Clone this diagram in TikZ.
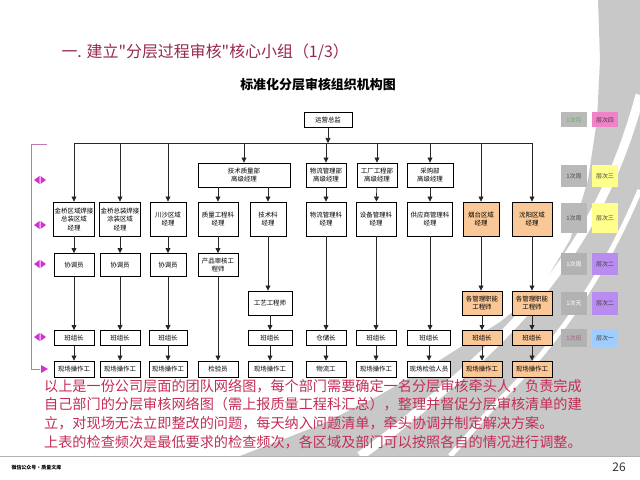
\documentclass[tikz,border=0pt]{standalone}
\usepackage{fontspec}
\setmainfont{Noto Sans CJK SC}[Ligatures=TeXOff]
\usetikzlibrary{arrows.meta, positioning}

\definecolor{titlered}{RGB}{150,40,75}
\definecolor{notered}{RGB}{195,45,85}
\definecolor{orangefill}{RGB}{250,200,150}
\definecolor{freqgrey}{RGB}{185,185,185}
\definecolor{freqlight}{RGB}{178,178,178}
\definecolor{lvlpink}{RGB}{240,130,200}
\definecolor{lvlyellow}{RGB}{255,255,140}
\definecolor{lvlpurple}{RGB}{185,140,240}
\definecolor{lvlblue}{RGB}{160,205,255}
\definecolor{sideline}{RGB}{190,120,190}
\definecolor{sidemark}{RGB}{210,50,210}
\definecolor{swoosh}{RGB}{200,200,200}

\begin{document}
\begin{tikzpicture}[x=1bp, y=-1bp, >={Triangle[length=5bp,width=5bp]},
  org/.style={draw, line width=0.9bp, fill=white, align=center, inner sep=1bp, font=\fontsize{6.5}{8.5}\selectfont, minimum width=40bp},
  r1/.style={org, minimum width=48bp, minimum height=15bp},
  r2/.style={org, minimum height=24bp},
  r3/.style={org, minimum height=34bp},
  r4/.style={org, minimum height=23bp},
  r6/.style={org, minimum height=15bp},
  r7/.style={org, minimum height=16bp},
  hl/.style={fill=orangefill},
  link/.style={->, line width=0.7bp, draw=black!85},
  freq/.style={fill=freqgrey, minimum width=26bp, inner sep=1bp, font=\fontsize{6}{7}\selectfont, text=black!70},
  lvl/.style={minimum width=26bp, inner sep=1bp, font=\fontsize{6}{7}\selectfont, text=black!75}]
\useasboundingbox (0,0) rectangle (640,480);
% background swoosh
\fill[swoosh] (598,0) -- (600,60) -- (597,120) -- (588,180) -- (570,240) -- (540,290) -- (500,322) -- (440,360) -- (380,395) -- (320,425) -- (240,456) -- (640,456) -- (640,0) -- cycle;
\draw[white, line width=9bp] (640,95) .. controls (612,200) and (560,290) .. (455,380) .. controls (420,410) and (390,435) .. (360,456);
\draw[white, line width=5bp] (640,190) .. controls (610,260) and (570,330) .. (500,400) .. controls (480,420) and (465,440) .. (450,456);
\draw[gray!60] (0,456) -- (640,456);

% heading
\node[anchor=west, text=titlered, font=\fontsize{16}{18}\selectfont] (title) at (58,52) {一. 建立"分层过程审核"核心小组（1/3）};
\node[font=\fontsize{13}{15}\selectfont\bfseries] (sub) at (318,85) {标准化分层审核组织机构图};

% chart
\node[r1] (zj) at (328,120) {运营总监};
\coordinate (busL) at (74,143);
\coordinate (busR) at (532,143);
\draw[line width=0.7bp, black!85] (busL) -- (busR);

\node[r2, minimum width=92bp] (jszl) at (244,175) {技术质量部\\高级经理};
\node[r2] (wlb) at (326,175) {物流管理部\\高级经理};
\node[r2] (gcb) at (377,175) {工厂工程部\\高级经理};
\node[r2, minimum width=46bp] (cgb) at (430,175) {采购部\\高级经理};

\node[r3] (c1) at (74,219) {金桥区域焊接\\总装区域\\经理};
\node[r3] (c2) at (120,219) {金桥总装焊接\\涂装区域\\经理};
\node[r3, minimum width=36bp] (c3) at (168,219) {川沙区域\\经理};
\node[r3] (c4) at (218,219) {质量工程科\\经理};
\node[r3, minimum width=36bp] (c5) at (268,219) {技术科\\经理};
\node[r3] (c6) at (326,219) {物流管理科\\经理};
\node[r3] (c7) at (376,219) {设备管理科\\经理};
\node[r3, minimum width=45bp] (c8) at (430,219) {供应商管理科\\经理};
\node[r3, hl, minimum width=36bp] (c9) at (481,219) {烟台区域\\经理};
\node[r3, hl] (c10) at (532,219) {沈阳区域\\经理};

\node[r4] (x1) at (74,265) {协调员};
\node[r4] (x2) at (120,265) {协调员};
\node[r4, minimum width=36bp] (x3) at (168,265) {协调员};
\node[r4] (cp) at (218,265) {产品审核工\\程师};

\node[r2, minimum width=44bp] (gy) at (270,303) {工艺工程师};
\node[r2, hl] (gn1) at (482,303) {各管理职能\\工程师};
\node[r2, hl] (gn2) at (532,303) {各管理职能\\工程师};

\node[r6] (b1) at (74,338) {班组长};
\node[r6] (b2) at (120,338) {班组长};
\node[r6, minimum width=38bp] (b3) at (168,338) {班组长};
\node[r6, minimum width=44bp] (b4) at (270,338) {班组长};
\node[r6] (cc) at (326,338) {仓储长};
\node[r6] (b6) at (376,338) {班组长};
\node[r6, minimum width=43bp] (b7) at (429,338) {班组长};
\node[r6, hl] (b8) at (482,338) {班组长};
\node[r6, hl] (b9) at (532,338) {班组长};

\node[r7] (o1) at (74,369) {现场操作工};
\node[r7] (o2) at (120,369) {现场操作工};
\node[r7, minimum width=38bp] (o3) at (168,369) {现场操作工};
\node[r7] (jy) at (218,369) {检验员};
\node[r7, minimum width=44bp] (o5) at (270,369) {现场操作工};
\node[r7] (wlg) at (326,369) {物流工};
\node[r7] (o7) at (376,369) {现场操作工};
\node[r7, minimum width=43bp] (xj) at (429,369) {现场检验人员};
\node[r7, hl] (o9) at (482,369) {现场操作工};
\node[r7, hl] (o10) at (532,369) {现场操作工};

% connectors
\draw[link] (zj) -- (zj |- busL);
\foreach \n in {jszl,wlb,gcb,cgb,c1,c2,c3,c9,c10}
  \draw[link] (\n |- busL) -- (\n);
\draw[link] (c4 |- jszl.south) -- (c4);
\draw[link] (c5 |- jszl.south) -- (c5);
\draw[link] (wlb) -- (c6);
\draw[link] (gcb) -- (c7);
\draw[link] (cgb) -- (c8);
\draw[link] (c1) -- (x1);
\draw[link] (c2) -- (x2);
\draw[link] (c3) -- (x3);
\draw[link] (c4) -- (cp);
\draw[link] (c5) -- (c5 |- gy.north);
\draw[link] (c6) -- (cc);
\draw[link] (c7) -- (b6);
\draw[link] (c8) -- (c8 |- b7.north);
\draw[link] (c9) -- (c9 |- gn1.north);
\draw[link] (c10) -- (gn2);
\draw[link] (x1) -- (b1);
\draw[link] (x2) -- (b2);
\draw[link] (x3) -- (b3);
\draw[link] (cp) -- (jy);
\draw[link] (gy) -- (b4);
\draw[link] (gn1) -- (b8);
\draw[link] (gn2) -- (b9);
\draw[link] (b1) -- (o1);
\draw[link] (b2) -- (o2);
\draw[link] (b3) -- (o3);
\draw[link] (b4) -- (o5);
\draw[link] (cc) -- (wlg);
\draw[link] (b6) -- (o7);
\draw[link] (b7) -- (xj);
\draw[link] (b8) -- (o9);
\draw[link] (b9) -- (o10);

% audit level bar
\draw[sideline, line width=1bp] (47,145) -- (31,145) -- (31,369) -- (40,369);
\fill[sidemark] (48,369) -- (41,365) -- (41,373) -- cycle;
\foreach \y in {180,225,264,337} {
  \fill[sidemark] (34,\y) -- (39.5,\y-4) -- (39.5,\y+4) -- cycle;
  \fill[sidemark] (46,\y) -- (40.5,\y-4) -- (40.5,\y+4) -- cycle;
}

% legend
\node[freq, minimum height=15bp, text=green!35!black!55] (f1) at (574,120) {1次月};
\node[lvl, fill=lvlpink, minimum height=15bp] (l1) at (605,120) {层次四};
\node[freq, minimum height=22bp] (f2) at (574,176) {1次周};
\node[lvl, fill=lvlyellow, minimum height=22bp] (l2) at (605,176) {层次三};
\node[freq, minimum height=30bp] (f3) at (574,218) {1次周};
\node[lvl, fill=lvlyellow, minimum height=30bp] (l3) at (605,218) {层次三};
\node[freq, fill=freqlight, text=white, minimum height=22bp] (f4) at (574,264) {1次周};
\node[lvl, fill=lvlpurple, minimum height=22bp] (l4) at (605,264) {层次二};
\node[freq, fill=freqlight, text=white, minimum height=23bp] (f5) at (574,303) {1次天};
\node[lvl, fill=lvlpurple, minimum height=23bp] (l5) at (605,303) {层次二};
\node[freq, fill=freqlight, text=lvlpink!70!black, minimum height=18bp] (f6) at (574,338) {1次班};
\node[lvl, fill=lvlblue, minimum height=18bp] (l6) at (605,338) {层次一};

% note
\node[anchor=north west, align=left, text=notered, inner sep=0pt, font=\fontsize{14.2}{18.7}\selectfont] (note) at (44,379) {以上是一份公司层面的团队网络图，每个部门需要确定一名分层审核牵头人，负责完成\\自己部门的分层审核网络图（需上报质量工程科汇总），整理并督促分层审核清单的建\\立，对现场无法立即整改的问题，每天纳入问题清单，牵头协调并制定解决方案。\\上表的检查频次是最低要求的检查频次，各区域及部门可以按照各自的情况进行调整。};

% footer
\node[anchor=west, font=\fontsize{5}{6}\selectfont\bfseries] (src) at (8,468) {微信公众号·质量文库};
\node[font=\fontsize{12}{14}\selectfont, text=black!80] (pg) at (619,467) {26};
\end{tikzpicture}
\end{document}
